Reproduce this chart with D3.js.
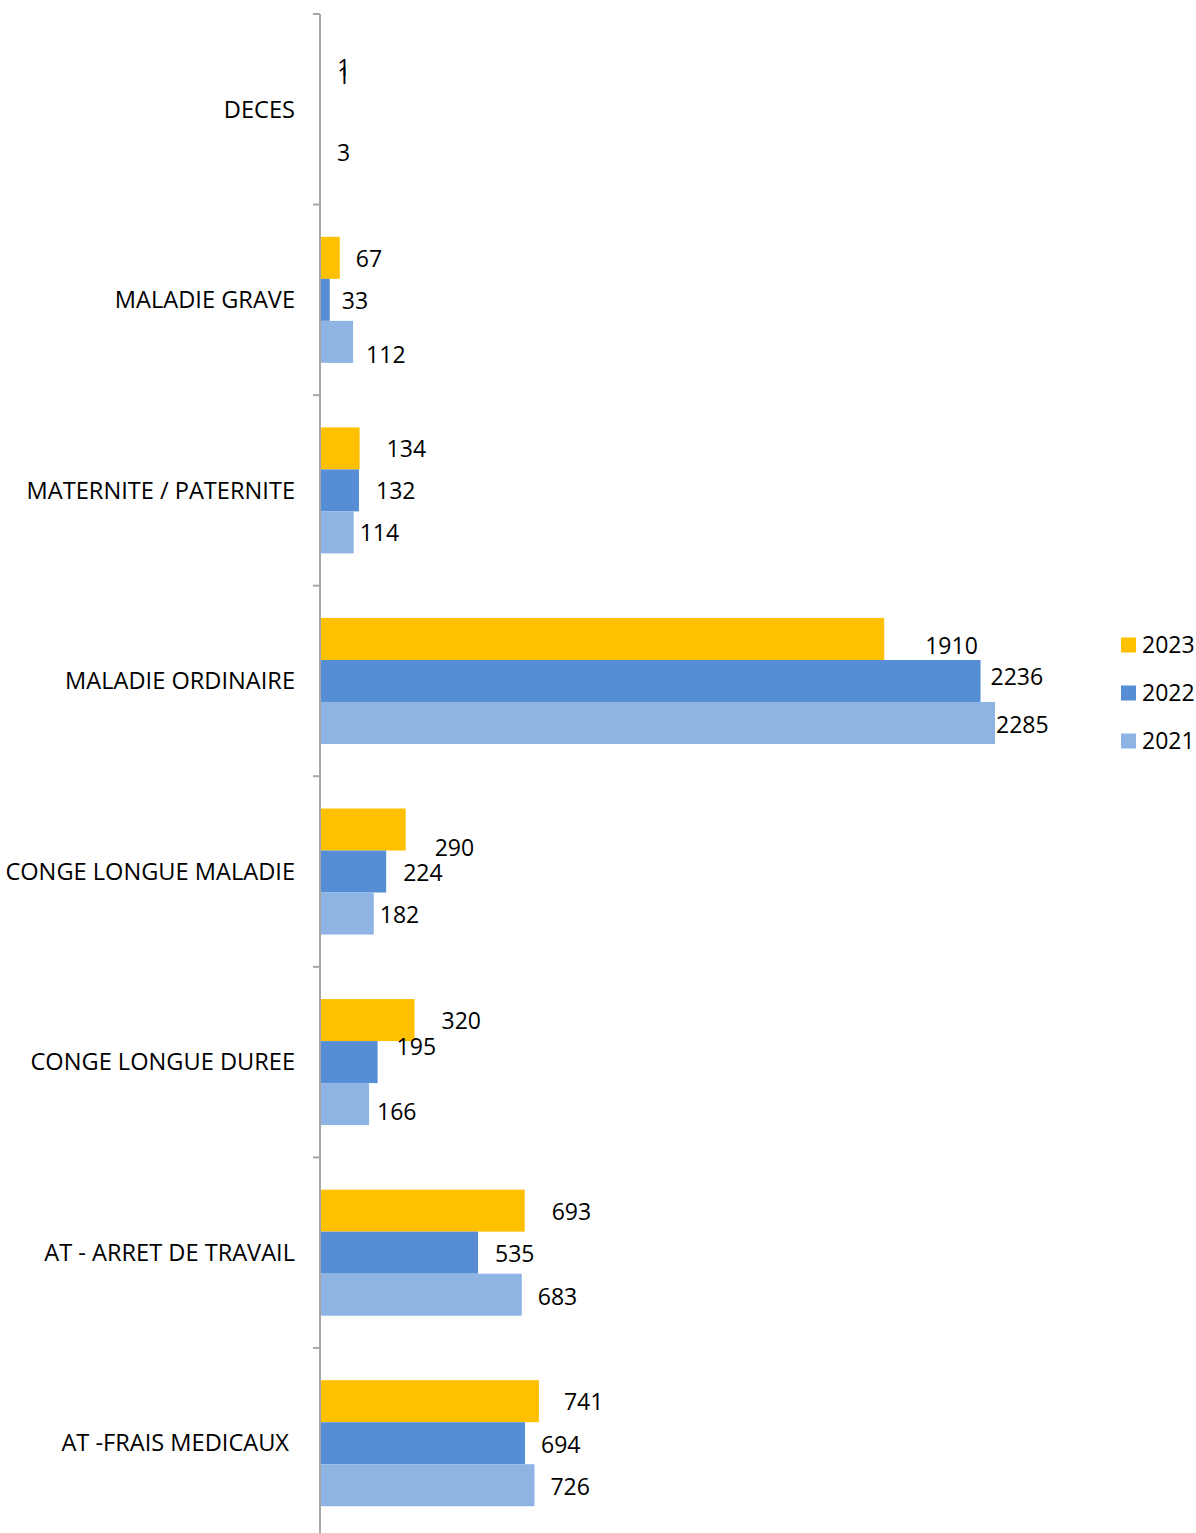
<!DOCTYPE html>
<html>
<head>
<meta charset="utf-8">
<script src="https://cdn.jsdelivr.net/npm/d3@7"></script>
<style>
  html, body { margin: 0; padding: 0; background: #fff; }
  svg { display: block; font-family: "Open Sans", sans-serif; }
</style>
</head>
<body>
<svg id="chart" width="1196" height="1533"></svg>
<script>
// ---- Data ----
const categories = ["DECES", "MALADIE GRAVE", "MATERNITE / PATERNITE", "MALADIE ORDINAIRE",
  "CONGE LONGUE MALADIE", "CONGE LONGUE DUREE", "AT - ARRET DE TRAVAIL", "AT -FRAIS MEDICAUX"];
const years = ["2023", "2022", "2021"];
const values2023 = [1, 67, 134, 1910, 290, 320, 693, 741];
const values2022 = [1, 33, 132, 2236, 224, 195, 535, 694];
const values2021 = [3, 112, 114, 2285, 182, 166, 683, 726];
const seriesValues = [values2023, values2022, values2021];
const colors = ["#FFC000", "#558ED5", "#8EB4E3"];

// label nudges (dx, dy) per series per category, mimicking manual placement
const labelNudge = [
  [[-9, 1], [-10, 1], [1, 1], [15, 7], [3, 18], [1, 1], [1, 1], [-1, 1]],
  [[1, -33], [-4, 1], [1, 1], [-6, -4], [1, 1], [3, -15], [1, 1], [0, 2]],
  [[0, 2], [-3, 13], [-10, 1], [-15, 2], [-10, 1], [-8, 8], [0, 2], [0, 2]]
];
const seriesLabelOffset = [26, 16, 16];

// ---- Layout ----
const svg = d3.select("#chart");
const x0 = 320;
const x = d3.scaleLinear().domain([0, 2285]).range([x0, x0 + 675]);
const y = d3.scaleBand().domain(categories).range([14, 1538.5]).padding(0);
const ys = d3.scaleBand().domain(years).range([0, y.bandwidth()]).paddingInner(0).paddingOuter(0.768);

// bars
years.forEach((yr, si) => {
  svg.append("g").selectAll("rect")
    .data(categories.map((c, i) => ({ c, v: seriesValues[si][i] })))
    .join("rect")
    .attr("x", x(0))
    .attr("y", d => y(d.c) + ys(yr))
    .attr("width", d => x(d.v) - x(0))
    .attr("height", ys.bandwidth())
    .attr("fill", colors[si]);
});

// axis
const ag = svg.append("g").attr("transform", `translate(${x0},0)`);
const boundaries = categories.map(c => y(c)).concat([y.range()[1]]);
ag.selectAll("line.b").data(boundaries).join("line")
  .attr("class", "b")
  .attr("x1", -7).attr("x2", 0)
  .attr("y1", d => d).attr("y2", d => d)
  .attr("stroke", "#A6A6A6").attr("stroke-width", 2);
ag.append("line").attr("x1", 0).attr("x2", 0)
  .attr("y1", y.range()[0]).attr("y2", y.range()[1])
  .attr("stroke", "#A6A6A6").attr("stroke-width", 2);

// category labels
svg.append("g").selectAll("text")
  .data(categories)
  .join("text")
  .attr("x", (d, i) => i === categories.length - 1 ? 289 : 295)
  .attr("y", d => y(d) + y.bandwidth() / 2)
  .attr("dy", "0.35em")
  .attr("text-anchor", "end")
  .attr("font-size", 23.6)
  .attr("fill", "#000")
  .text(d => d);

// value labels
years.forEach((yr, si) => {
  svg.append("g").selectAll("text")
    .data(categories.map((c, i) => ({ c, i, v: seriesValues[si][i] })))
    .join("text")
    .attr("x", d => x(d.v) + seriesLabelOffset[si] + labelNudge[si][d.i][0])
    .attr("y", d => y(d.c) + ys(yr) + ys.bandwidth() / 2 + labelNudge[si][d.i][1])
    .attr("dy", "0.35em")
    .attr("font-size", 23)
    .attr("fill", "#000")
    .text(d => d.v);
});

// legend
const lg = svg.append("g");
years.forEach((yr, si) => {
  const cy = 645 + si * 48;
  lg.append("rect").attr("x", 1121).attr("y", cy - 7.5).attr("width", 15).attr("height", 15).attr("fill", colors[si]);
  lg.append("text").attr("x", 1142).attr("y", cy).attr("dy", "0.35em")
    .attr("font-size", 23).attr("fill", "#000").text(yr);
});
</script>
</body>
</html>
